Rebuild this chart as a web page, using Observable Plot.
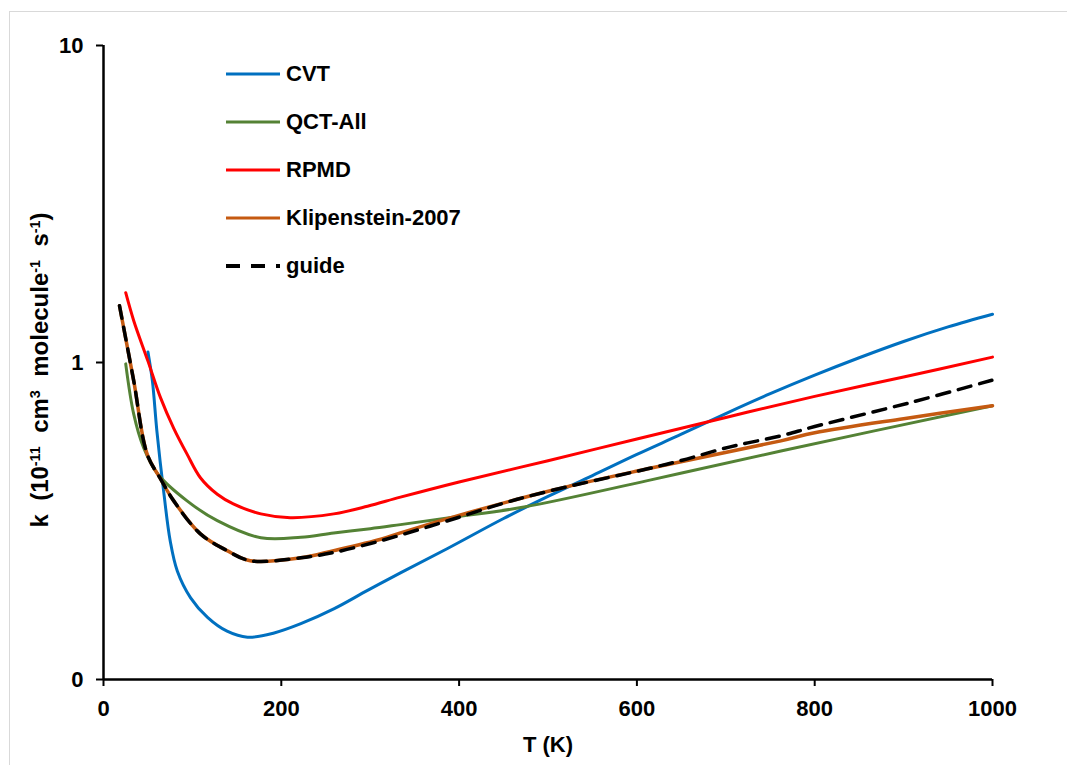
<!DOCTYPE html>
<html>
<head>
<meta charset="utf-8">
<script src="https://cdn.jsdelivr.net/npm/d3@7"></script>
<script src="https://cdn.jsdelivr.net/npm/@observablehq/plot@0.6"></script>
<style>
  html, body { margin: 0; padding: 0; background: #fff; }
  #wrap { position: relative; width: 1067px; height: 765px; overflow: hidden; background: #fff;
          font-family: "Liberation Sans", Arial, sans-serif; font-weight: bold; color: #000; }
  #border { position: absolute; left: 9px; top: 11px; width: 1200px; height: 900px;
            border-top: 1.5px solid #d9d9d9; border-left: 1.5px solid #d9d9d9; }
  #chart { position: absolute; left: 0; top: 0; }
  #legend { position: absolute; left: 226px; top: 0; }
  .row { position: absolute; left: 0; height: 24px; display: flex; align-items: center; white-space: nowrap; font-size: 22px; }
  .row svg { margin-right: 6px; }
  #ylabel { position: absolute; left: 40px; top: 370px; transform: translate(-50%, -50%) rotate(-90deg);
            white-space: pre; font-size: 24px; }
  #ylabel sup { font-size: 0.6em; vertical-align: 0.55em; line-height: 0; }
  #xlabel { position: absolute; left: 548px; top: 745px; transform: translate(-50%, -50%); font-size: 22px; white-space: nowrap; }
</style>
</head>
<body>
<div id="wrap">
  <div id="border"></div>
  <div id="chart"></div>
  <div id="legend"></div>
  <div id="ylabel">k  (10<sup>-11</sup>  cm<sup>3</sup>  molecule<sup>-1</sup>  s<sup>-1</sup>)</div>
  <div id="xlabel">T (K)</div>
</div>
<script>
// ---- data (T in K, k in 1e-11 cm3 molecule-1 s-1) ----
const cvtT = [50,55,60,68,75,83,98,117,139,162,191,222,259,297,334,387,450,500,550,600,650,700,750,800,850,900,950,1000];
const cvtK = [1.08,0.875,0.61,0.385,0.274,0.22,0.181,0.157,0.142,0.136,0.140,0.150,0.167,0.191,0.217,0.259,0.322,0.378,0.44,0.513,0.594,0.69,0.797,0.912,1.035,1.165,1.295,1.42];

const qctT = [25,34,45,61,94,128,177,222,259,300,334,394,473,612,762,1000];
const qctK = [0.99,0.687,0.54,0.445,0.366,0.317,0.28,0.281,0.29,0.299,0.308,0.325,0.350,0.424,0.526,0.73];

const rpmdT = [25,34,50,64,79,94,109,128,146,177,210,259,297,334,400,500,600,700,800,900,1000];
const rpmdK = [1.66,1.355,1.01,0.776,0.62,0.514,0.433,0.384,0.358,0.333,0.324,0.333,0.352,0.376,0.42,0.49,0.574,0.671,0.782,0.90,1.04];

const klipT = [18,34,49,64,79,109,139,165,222,259,312,334,394,506,612,762,800,900,1000];
const klipK = [1.51,0.875,0.515,0.43,0.366,0.288,0.255,0.237,0.242,0.255,0.277,0.29,0.326,0.396,0.462,0.566,0.60,0.665,0.73];

const guideT = [18,34,49,64,79,109,139,165,222,260,312,368,400,450,506,612,649,705,762,800,908,1000];
const guideK = [1.51,0.875,0.515,0.43,0.366,0.288,0.255,0.237,0.242,0.252,0.274,0.305,0.325,0.36,0.396,0.462,0.49,0.542,0.587,0.628,0.748,0.88];

const seriesNames = ["CVT", "QCT-All", "RPMD", "Klipenstein-2007", "guide"];
const seriesColors = ["#0070C0", "#548235", "#FF0000", "#C55A11", "#000000"];

const xTicks = [0, 200, 400, 600, 800, 1000];
const yTicks = [0.1, 1, 10];
const yTickLabels = ["0", "1", "10"];

// ---- build tables ----
const toRows = (ts, ks, name) => ts.map((t, i) => ({T: t, k: ks[i], series: name}));
const cvt = toRows(cvtT, cvtK, seriesNames[0]);
const qct = toRows(qctT, qctK, seriesNames[1]);
const rpmd = toRows(rpmdT, rpmdK, seriesNames[2]);
const klip = toRows(klipT, klipK, seriesNames[3]);
const guide = toRows(guideT, guideK, seriesNames[4]);

const font = {fontSize: 22, fontWeight: "bold", fontFamily: "Liberation Sans, Arial, sans-serif"};

const chart = Plot.plot({
  width: 1067,
  height: 765,
  marginLeft: 103,
  marginRight: 75,
  marginTop: 45,
  marginBottom: 86,
  style: {background: "transparent", fontFamily: "Liberation Sans, Arial, sans-serif", fontWeight: "bold", fontSize: "22px", color: "#000"},
  x: {domain: [0, 1000]},
  y: {type: "log", domain: [0.1, 10]},
  marks: [
    Plot.axisX({ticks: xTicks, tickSize: 7, tickPadding: 14, tickFormat: d => String(d), label: null, strokeWidth: 2, ...font}),
    Plot.axisY({ticks: yTicks, tickSize: 7, tickPadding: 13, tickFormat: d => yTickLabels[yTicks.indexOf(d)], label: null, strokeWidth: 2, ...font}),
    Plot.ruleY([0.1], {stroke: "#000", strokeWidth: 2.5}),
    Plot.ruleX([0], {stroke: "#000", strokeWidth: 2.5}),
    Plot.line(cvt, {x: "T", y: "k", stroke: seriesColors[0], strokeWidth: 3, curve: "catmull-rom"}),
    Plot.line(qct, {x: "T", y: "k", stroke: seriesColors[1], strokeWidth: 3, curve: "catmull-rom"}),
    Plot.line(rpmd, {x: "T", y: "k", stroke: seriesColors[2], strokeWidth: 3, curve: "catmull-rom"}),
    Plot.line(klip, {x: "T", y: "k", stroke: seriesColors[3], strokeWidth: 3.5, curve: "catmull-rom"}),
    Plot.line(guide, {x: "T", y: "k", stroke: seriesColors[4], strokeWidth: 3.5, strokeDasharray: "13,9", curve: "catmull-rom"})
  ]
});
document.getElementById("chart").appendChild(chart);

// ---- legend ----
const legend = document.getElementById("legend");
const rowY = [74, 122, 170, 218, 266];
seriesNames.forEach((name, i) => {
  const row = document.createElement("div");
  row.className = "row";
  row.style.top = (rowY[i] - 12) + "px";
  const dash = name === "guide" ? 'stroke-dasharray="14,11"' : "";
  const sw = name === "guide" ? 4 : 3;
  row.innerHTML = `<svg width="54" height="10"><line x1="0" y1="5" x2="54" y2="5" stroke="${seriesColors[i]}" stroke-width="${sw}" ${dash}/></svg><span>${name}</span>`;
  legend.appendChild(row);
});
</script>
</body>
</html>
